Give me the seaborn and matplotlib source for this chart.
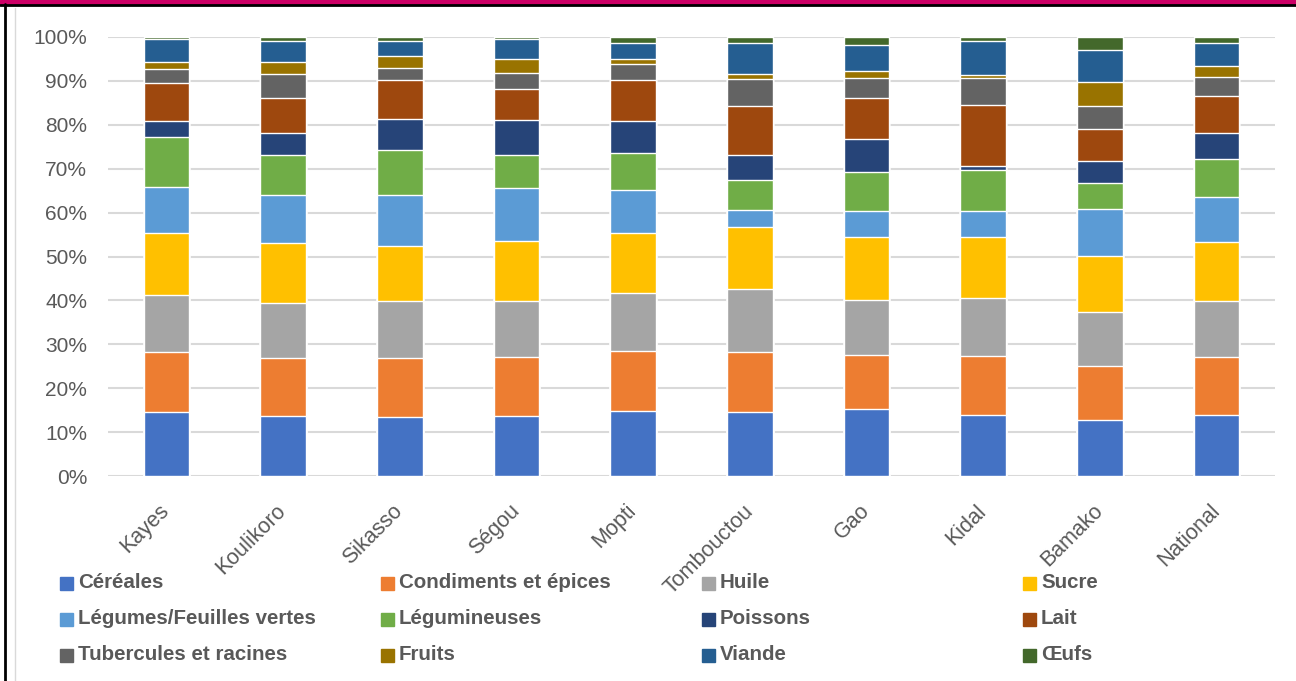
import numpy as np
import matplotlib.pyplot as plt
from matplotlib.patches import Rectangle
import pandas as pd
import seaborn as sns

regions = ["Kayes", "Koulikoro", "Sikasso", "Ségou", "Mopti",
           "Tombouctou", "Gao", "Kidal", "Bamako", "National"]

# parts of each group in %, one value per region
cereales = [14.5, 13.7, 13.4, 13.7, 14.8, 14.5, 15.3, 13.9, 12.8, 13.9]
condiments = [13.8, 13.1, 13.4, 13.3, 13.7, 13.7, 12.3, 13.4, 12.3, 13.2]
huile = [13.0, 12.5, 13.1, 12.9, 13.2, 14.3, 12.6, 13.2, 12.2, 12.8]
sucre = [14.1, 13.7, 12.6, 13.7, 13.7, 14.3, 14.2, 13.9, 12.8, 13.4]
legumes = [10.4, 11.1, 11.6, 11.9, 9.8, 3.9, 5.9, 5.9, 10.7, 10.2]
legumineuses = [11.4, 9.1, 10.2, 7.7, 8.3, 6.7, 9.0, 9.4, 5.9, 8.7]
poissons = [3.6, 4.9, 7.0, 7.9, 7.3, 5.7, 7.4, 0.9, 5.0, 5.9]
lait = [8.7, 7.9, 8.8, 7.0, 9.3, 11.2, 9.3, 13.9, 7.3, 8.5]
tubercules = [3.2, 5.6, 2.9, 3.7, 3.8, 6.1, 4.7, 6.2, 5.3, 4.3]
fruits = [1.5, 2.6, 2.6, 3.2, 1.1, 1.2, 1.6, 0.6, 5.5, 2.6]
viande = [5.3, 5.0, 3.6, 4.5, 3.6, 7.0, 5.9, 7.9, 7.3, 5.1]
oeufs = [0.5, 0.8, 0.8, 0.5, 1.4, 1.4, 1.8, 0.8, 2.9, 1.4]

groups = ["Céréales", "Condiments et épices", "Huile", "Sucre",
          "Légumes/Feuilles vertes", "Légumineuses", "Poissons", "Lait",
          "Tubercules et racines", "Fruits", "Viande", "Œufs"]
colors = ["#4472C4", "#ED7D31", "#A5A5A5", "#FFC000", "#5B9BD5", "#70AD47",
          "#264478", "#9E480E", "#636363", "#997300", "#255E91", "#43682B"]

df = pd.DataFrame(
    [cereales, condiments, huile, sucre, legumes, legumineuses,
     poissons, lait, tubercules, fruits, viande, oeufs],
    index=groups, columns=regions)
df = df / df.sum(axis=0) * 100  # 100% stacked
cum = df.cumsum(axis=0)

sns.set_style("white")
plt.rcParams["font.family"] = ["Liberation Sans", "DejaVu Sans"]

fig = plt.figure(figsize=(12.96, 6.81), dpi=100)
ax = fig.add_axes([108 / 1296, 1 - 476 / 681, 1167 / 1296, 439 / 681])

# draw the stacked bars from the top down so each one hides the rest
for g, c in reversed(list(zip(groups, colors))):
    d = pd.DataFrame({"region": regions, "value": cum.loc[g].values})
    sns.barplot(data=d, x="region", y="value", color=c, width=0.39,
                saturation=1, ax=ax, zorder=2)

ax.set_xlim(-0.5, 9.5)
ax.set_ylim(0, 100)
ax.set_yticks(np.arange(0, 101, 10))
ax.set_yticklabels([f"{v}%" for v in range(0, 101, 10)])
ax.yaxis.grid(True, color="#D9D9D9", lw=1.5, zorder=0)
ax.set_axisbelow(True)
for s in ax.spines.values():
    s.set_visible(False)
ax.set_xlabel("")
ax.set_ylabel("")
ax.tick_params(axis="y", length=0, pad=15, labelsize=15, labelcolor="#595959")
ax.tick_params(axis="x", length=0, pad=23, labelsize=15.5, labelcolor="#595959")
for lab in ax.get_xticklabels():
    lab.set_rotation(45)
    lab.set_ha("right")
    lab.set_va("center")
    lab.set_rotation_mode("anchor")

# legend, 4 columns filled row by row
W, H = 1296, 681
for i, (g, c) in enumerate(zip(groups, colors)):
    col, row = i % 4, i // 4
    x0 = 60 + col * 321
    y0 = 583 + row * 36
    fig.patches.append(Rectangle((x0 / W, 1 - (y0 + 6.5) / H), 13 / W, 13 / H,
                                 transform=fig.transFigure, color=c))
    fig.text((x0 + 18) / W, 1 - y0 / H, g, fontsize=14.8, fontweight="bold",
             color="#595959", va="center", ha="left")

# frame bits of the original report
fig.patches.append(Rectangle((0, 1 - 4 / H), 1, 4 / H, transform=fig.transFigure,
                             color="#CC0066"))
fig.lines.append(plt.Line2D([0, 1], [1 - 5 / H, 1 - 5 / H], transform=fig.transFigure,
                            color="black", lw=2))
fig.lines.append(plt.Line2D([5 / W, 5 / W], [0, 1 - 4 / H], transform=fig.transFigure,
                            color="black", lw=2))
fig.lines.append(plt.Line2D([15 / W, 15 / W], [0, 1 - 8 / H], transform=fig.transFigure,
                            color="#D9D9D9", lw=1))

fig.savefig("out.png", dpi=100)
